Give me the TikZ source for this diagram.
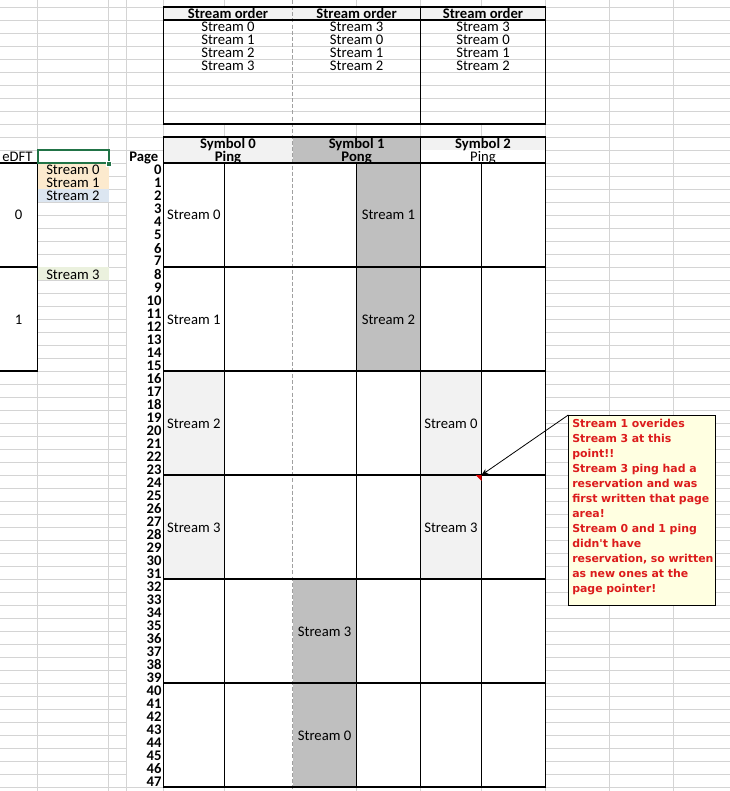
\documentclass[tikz,border=0pt]{standalone}
\usepackage{fontspec}
\setmainfont{Carlito}
\newfontfamily\notefont{DejaVu Sans}
\usetikzlibrary{arrows.meta}
\definecolor{gridc}{RGB}{212,212,212}
\definecolor{hdrc}{RGB}{242,242,242}
\definecolor{pongc}{RGB}{191,191,191}
\definecolor{peachc}{RGB}{252,234,206}
\definecolor{lbluec}{RGB}{220,230,241}
\definecolor{lgreenc}{RGB}{235,241,222}
\definecolor{selc}{RGB}{33,115,70}
\definecolor{notebg}{RGB}{255,255,225}
\definecolor{notered}{RGB}{220,28,28}
\definecolor{pbc}{RGB}{160,160,160}
\tikzset{
  gridline/.style={draw=gridc, line width=0.7pt},
  bd/.style={draw=black, line width=1pt},
  pagebreak/.style={draw=pbc, line width=0.8pt, dash pattern=on 3pt off 1.6pt},
  cell/.style={inner sep=0pt, font=\fontsize{11}{13}\selectfont, anchor=base},
  cellb/.style={cell, font=\fontsize{11}{13}\selectfont\bfseries},
  notebox/.style={draw=black, line width=0.75pt, fill=notebg, inner sep=0pt},
  notetext/.style={inner sep=0pt, text=notered, align=left, text width=108pt,
    font=\notefont\fontsize{8.2}{11.25}\selectfont\bfseries},
  notearrow/.style={draw=black, line width=0.6pt, -{Stealth[length=5pt,width=4pt]}}
}
\begin{document}
\begin{tikzpicture}[x=0.75pt,y=-0.75pt]
\useasboundingbox (0,0) rectangle (730,791);
\fill[white] (0,0) rectangle (730,791);
% spreadsheet gridlines
\foreach \k in {0,...,61} {\draw[gridline] (0,{-6+13*\k}) -- (730,{-6+13*\k});}
\foreach \x in {37.7,108.7,126.7,163.3,224.3,356.5,420.5,481.5,545.3,609.3,673.3} {\draw[gridline] (\x,0) -- (\x,791);}
% top table fills
\fill[white] (163.3,20) rectangle (545.3,124);
\foreach \k in {1,...,7} {\draw[gridline] (163.3,{20+13*\k}) -- (545.3,{20+13*\k});}
\fill[hdrc] (163.3,7) rectangle (545.3,20);
% lower table fills
\fill[hdrc] (163.3,137) rectangle (292.7,163);
\fill[pongc] (292.7,137) rectangle (420.5,163);
\fill[hdrc] (420.5,137) rectangle (545.3,150);
\fill[white] (420.5,150) rectangle (545.3,163);
\fill[white] (163.3,163) rectangle (545.3,787);
\fill[hdrc] (163.3,371) rectangle (224.3,579);
\fill[pongc] (356.5,163) rectangle (420.5,371);
\fill[pongc] (292.7,579) rectangle (356.5,787);
\fill[hdrc] (420.5,371) rectangle (481.5,579);
% left fills
\fill[white] (0,163) rectangle (37.7,371);
\fill[white] (127.2,163) rectangle (163.3,787);
\fill[peachc] (37.7,163) rectangle (108.7,189);
\fill[lbluec] (37.7,189) rectangle (108.7,202);
\fill[lgreenc] (37.7,267) rectangle (108.7,280);
% page break line
\draw[pagebreak] (292.7,0) -- (292.7,791);
% borders: top table
\draw[bd] (163.3,7) rectangle (545.3,124);
\draw[bd] (163.3,20) -- (545.3,20);
\draw[bd] (420.5,7) -- (420.5,124);
% borders: lower table
\draw[bd] (163.3,137) rectangle (545.3,787);
\foreach \y in {163,267,371,475,579,683} {\draw[bd] (163.3,\y) -- (545.3,\y);}
\foreach \x in {224.3,356.5,481.5} {\draw[bd] (\x,163) -- (\x,787);}
\draw[bd] (420.5,137) -- (420.5,787);
% borders: eDFT
\draw[bd] (0,163) -- (37.7,163) -- (37.7,371) -- (0,371);
\draw[bd] (0,267) -- (37.7,267);
% selected cell
\draw[selc, line width=1.5pt] (37.7,150) rectangle (108.7,163.5);
\draw[white, fill=selc, line width=0.5pt] (106.2,161) rectangle (111.2,166);
% top table texts
\node[cellb] (so1) at (228,19) {Stream order};
\node[cellb] (so2) at (356.6,19) {Stream order};
\node[cellb] (so3) at (483,19) {Stream order};
\node[cell] (a0) at (228,32) {Stream 0};
\node[cell] (a1) at (228,45) {Stream 1};
\node[cell] (a2) at (228,58) {Stream 2};
\node[cell] (a3) at (228,71) {Stream 3};
\node[cell] (b0) at (356.6,32) {Stream 3};
\node[cell] (b1) at (356.6,45) {Stream 0};
\node[cell] (b2) at (356.6,58) {Stream 1};
\node[cell] (b3) at (356.6,71) {Stream 2};
\node[cell] (c0) at (483,32) {Stream 3};
\node[cell] (c1) at (483,45) {Stream 0};
\node[cell] (c2) at (483,58) {Stream 1};
\node[cell] (c3) at (483,71) {Stream 2};
% lower header texts
\node[cellb] (sym0) at (228,149) {Symbol 0};
\node[cellb] (ping0) at (228,162) {Ping};
\node[cellb] (sym1) at (356.6,149) {Symbol 1};
\node[cellb] (pong1) at (356.6,162) {Pong};
\node[cellb] (sym2) at (483,149) {Symbol 2};
\node[cell] (ping2) at (483,162) {Ping};
\node[cell, anchor=base west] (edft) at (2,162) {eDFT};
\node[cellb] (page) at (143.8,162) {Page};
% page numbers
\foreach \p in {0,...,47} {\node[cellb, anchor=base east] (pg\p) at (161.7,{175+13*\p}) {\p};}
% eDFT values
\node[cell] (e0) at (18.5,220) {0};
\node[cell] (e1) at (18.5,324) {1};
% column B streams
\node[cell, anchor=base west] (l0) at (46,175) {Stream 0};
\node[cell, anchor=base west] (l1) at (46,188) {Stream 1};
\node[cell, anchor=base west] (l2) at (46,201) {Stream 2};
\node[cell, anchor=base west] (l3) at (46,279) {Stream 3};
% body texts
\node[cell] (s00) at (193.8,220) {Stream 0};
\node[cell] (s01) at (193.8,324) {Stream 1};
\node[cell] (s02) at (193.8,428) {Stream 2};
\node[cell] (s03) at (193.8,532) {Stream 3};
\node[cell] (s10) at (388.5,220) {Stream 1};
\node[cell] (s11) at (388.5,324) {Stream 2};
\node[cell] (s14) at (324.6,636) {Stream 3};
\node[cell] (s15) at (324.6,740) {Stream 0};
\node[cell] (s22) at (451,428) {Stream 0};
\node[cell] (s23) at (451,532) {Stream 3};
% comment indicator
\fill[red!85!black] (475.5,475) -- (481.5,475) -- (481.5,481) -- cycle;
\coordinate (tip) at (481.5,475);
% comment box
\node[notebox, anchor=north west, minimum width=110.25pt, minimum height=142.5pt] (note) at (568.3,415) {};
\node[notetext, anchor=base west] (notetxt) at (572,427.3) {Stream 1 overides\\Stream 3 at this\\point!!\\Stream 3 ping had a\\reservation and was\\first written that page\\area!\\Stream 0 and 1 ping\\didn't have\\reservation, so written\\as new ones at the\\page pointer!};
\draw[notearrow] (note.north west) -- (tip);
\end{tikzpicture}
\end{document}
